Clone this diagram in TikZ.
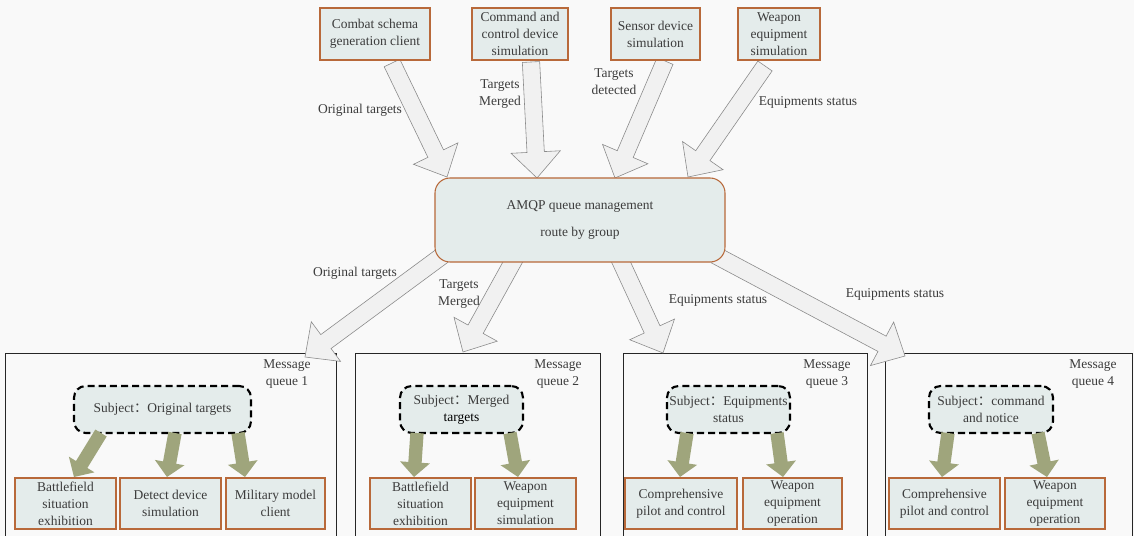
\documentclass[tikz,border=0pt]{standalone}
\usepackage{fontspec}
\setmainfont{Liberation Serif}
\newfontfamily\cjkfont{Noto Sans CJK SC}
\usepackage{tikz}
\usepackage{xcolor}
\usetikzlibrary{calc}
\definecolor{AmqpBrown}{HTML}{B8693A}
\definecolor{AmqpFill}{HTML}{E4ECEB}
\definecolor{AmqpText}{HTML}{3C3C3C}
\definecolor{AmqpOlive}{HTML}{9FA57C}
\definecolor{AmqpGray}{HTML}{8A8A8A}
\definecolor{AmqpLight}{HTML}{F1F1F1}
\definecolor{AmqpBack}{HTML}{F9F9F9}
\tikzset{
    srcbox/.style={
        draw=AmqpBrown,
        fill=AmqpFill,
        line width=0.9pt,
        text=AmqpText,
        align=center,
        inner sep=2pt
    },
    hubbox/.style={
        srcbox,
        rounded corners=0.45cm,
        minimum width=8.7cm,
        minimum height=2.52cm
    },
    queuebox/.style={
        draw=black!85,
        fill=AmqpBack,
        line width=0.8pt,
        minimum height=5.76cm
    },
    subjbox/.style={
        draw=black,
        fill=AmqpFill,
        line width=1.8pt,
        dash pattern=on 6pt off 3.5pt,
        rounded corners=0.35cm,
        minimum height=1.41cm,
        text=AmqpText,
        align=center,
        inner sep=1pt
    },
    leafbox/.style={
        srcbox,
        minimum height=1.53cm,
        inner sep=1pt
    },
    flowlabel/.style={
        text=AmqpText,
        align=center,
        inner sep=1pt
    },
    grayflow/.style={
        draw=AmqpGray,
        fill=AmqpLight,
        line width=0.5pt,
        line join=miter
    },
    oliveflow/.style={
        fill=AmqpOlive,
        draw=none
    }
}
\newcommand{\fwcolon}{{\cjkfont ：}}
% block arrow: style, tail, tip, shaft half width, head half width, head length
\newcommand{\flowarrow}[6]{%
    \coordinate (neck) at ($(#3)!#6!(#2)$);
    \draw[#1] ($(#2)!#4!90:(#3)$) -- ($(neck)!#4!90:(#3)$) -- ($(neck)!#5!90:(#3)$)
        -- (#3) -- ($(neck)!#5!-90:(#3)$) -- ($(neck)!#4!-90:(#3)$)
        -- ($(#2)!#4!-90:(#3)$) -- cycle;
}
\newcommand{\grayarrow}[2]{\flowarrow{grayflow}{#1}{#2}{0.26cm}{0.74cm}{0.78cm}}
\newcommand{\olivearrow}[2]{\flowarrow{oliveflow}{#1}{#2}{0.2cm}{0.45cm}{0.44cm}}

\begin{document}
\begin{tikzpicture}[x=0.03cm, y=-0.03cm, font=\fontsize{11.5}{14.5}\selectfont]
        \fill[AmqpBack] (0,0) rectangle (1134,536);
        \useasboundingbox (0,0) rectangle (1134,536);

        % Message queues
        \node[queuebox, minimum width=9.93cm] (q1) at (170.5,449) {};
        \node[queuebox, minimum width=7.35cm] (q2) at (477.5,449) {};
        \node[queuebox, minimum width=7.32cm] (q3) at (745,449) {};
        \node[queuebox, minimum width=7.41cm] (q4) at (1008.5,449) {};

        % Arrow end points
        \coordinate (t1) at (392,63);  \coordinate (h1) at (447,177);
        \coordinate (t2) at (531,62);  \coordinate (h2) at (537,178);
        \coordinate (t3) at (665,61);  \coordinate (h3) at (615,178);
        \coordinate (t4) at (765,66);  \coordinate (h4) at (688,177);
        \coordinate (u1) at (450,250); \coordinate (d1) at (305,357);
        \coordinate (u2) at (520,249); \coordinate (d2) at (463,352);
        \coordinate (u3) at (615,249); \coordinate (d3) at (663,353);
        \coordinate (u4) at (715,255); \coordinate (d4) at (905,356);

        % Gray flows into and out of the hub
        \grayarrow{t1}{h1}
        \grayarrow{t2}{h2}
        \grayarrow{t3}{h3}
        \grayarrow{t4}{h4}
        \grayarrow{u1}{d1}
        \grayarrow{u2}{d2}
        \grayarrow{u3}{d3}
        \grayarrow{u4}{d4}

        % Sources
        \node[srcbox, minimum width=3.3cm, minimum height=1.56cm] (src1) at (375,34) {Combat schema\\generation client};
        \node[srcbox, minimum width=2.88cm, minimum height=1.56cm] (src2) at (520,34) {Command and\\control device\\simulation};
        \node[srcbox, minimum width=2.67cm, minimum height=1.56cm] (src3) at (655.5,34) {Sensor device\\simulation};
        \node[srcbox, minimum width=2.46cm, minimum height=1.56cm] (src4) at (779,34) {Weapon\\equipment\\simulation};

        % Hub
        \node[hubbox] (amqp) at (580,220) {AMQP queue management\\[8pt]route by group};

        % Flow labels
        \node[flowlabel] (lt1) at (360,110) {Original targets};
        \node[flowlabel] (lt2) at (500,94) {Targets\\Merged};
        \node[flowlabel] (lt3) at (614,82) {Targets\\detected};
        \node[flowlabel] (lt4) at (808,102) {Equipments status};
        \node[flowlabel] (lb1) at (355,273) {Original targets};
        \node[flowlabel] (lb2) at (459,294) {Targets\\Merged};
        \node[flowlabel] (lb3) at (718,300) {Equipments status};
        \node[flowlabel] (lb4) at (895,294) {Equipments status};

        % Queue titles
        \node[flowlabel] (m1) at (287,374) {Message\\queue 1};
        \node[flowlabel] (m2) at (558,374) {Message\\queue 2};
        \node[flowlabel] (m3) at (827,374) {Message\\queue 3};
        \node[flowlabel] (m4) at (1093,374) {Message\\queue 4};

        % Subjects
        \node[subjbox, minimum width=5.31cm] (s1) at (162.5,409.5) {Subject\fwcolon Original targets};
        \node[subjbox, minimum width=3.69cm] (s2) at (461.5,409.5) {Subject\fwcolon Merged\\\textcolor{black}{targets}};
        \node[subjbox, minimum width=3.69cm] (s3) at (728.5,409.5) {Subject\fwcolon Equipments\\status};
        \node[subjbox, minimum width=3.72cm] (s4) at (991,409.5) {Subject\fwcolon command\\and notice};

        % Consumers
        \node[leafbox, minimum width=3.03cm] (c11) at (65.5,503.5) {Battlefield\\situation\\exhibition};
        \node[leafbox, minimum width=3.03cm] (c12) at (170.5,503.5) {Detect device\\simulation};
        \node[leafbox, minimum width=2.97cm] (c13) at (275.5,503.5) {Military model\\client};
        \node[leafbox, minimum width=3.03cm] (c21) at (420.5,503.5) {Battlefield\\situation\\exhibition};
        \node[leafbox, minimum width=3.03cm] (c22) at (525.5,503.5) {Weapon\\equipment\\simulation};
        \node[leafbox, minimum width=3.36cm] (c31) at (681,503.5) {Comprehensive\\pilot and control};
        \node[leafbox, minimum width=2.97cm] (c32) at (792.5,503.5) {Weapon\\equipment\\operation};
        \node[leafbox, minimum width=3.33cm] (c41) at (944.5,503.5) {Comprehensive\\pilot and control};
        \node[leafbox, minimum width=3.0cm] (c42) at (1055,503.5) {Weapon\\equipment\\operation};

        % Olive flows from subjects to consumers
        \coordinate (o11) at (101,433); \coordinate (p11) at (74,477);
        \coordinate (o12) at (175,433); \coordinate (p12) at (167,477);
        \coordinate (o13) at (238,433); \coordinate (p13) at (245,477);
        \coordinate (o21) at (417,433); \coordinate (p21) at (414,477);
        \coordinate (o22) at (510,433); \coordinate (p22) at (518,477);
        \coordinate (o31) at (687,433); \coordinate (p31) at (680,477);
        \coordinate (o32) at (777,433); \coordinate (p32) at (783,477);
        \coordinate (o41) at (948,433); \coordinate (p41) at (942,477);
        \coordinate (o42) at (1038,433); \coordinate (p42) at (1047,477);
        \olivearrow{o11}{p11}
        \olivearrow{o12}{p12}
        \olivearrow{o13}{p13}
        \olivearrow{o21}{p21}
        \olivearrow{o22}{p22}
        \olivearrow{o31}{p31}
        \olivearrow{o32}{p32}
        \olivearrow{o41}{p41}
        \olivearrow{o42}{p42}
    \end{tikzpicture}
\end{document}
